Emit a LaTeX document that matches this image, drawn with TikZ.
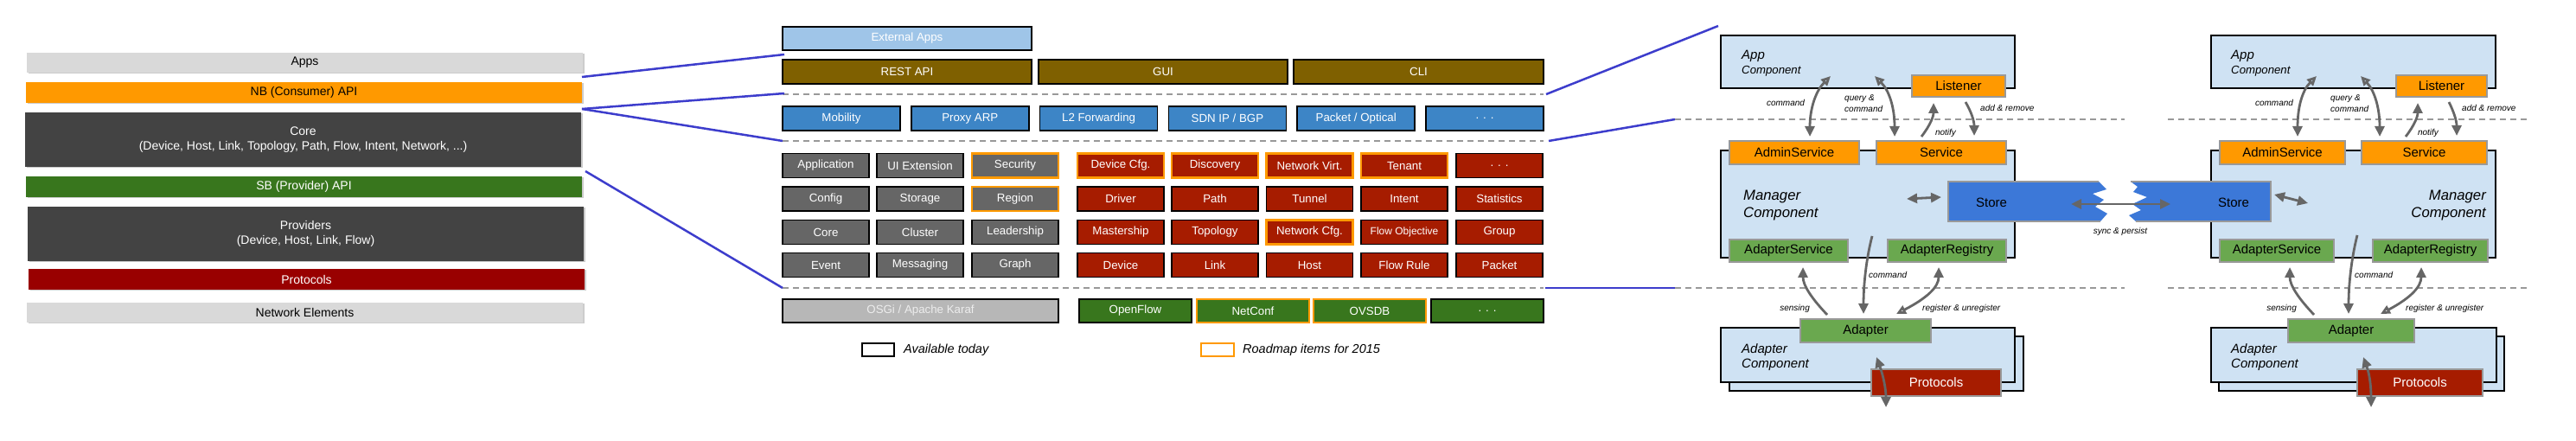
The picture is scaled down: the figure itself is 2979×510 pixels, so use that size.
\documentclass[tikz,border=0pt]{standalone}
\usepackage{fontspec}
\setmainfont{Liberation Sans}
\usetikzlibrary{arrows.meta,shadows}

\definecolor{lgray}{HTML}{D9D9D9}
\definecolor{nborange}{HTML}{FF9900}
\definecolor{dgray}{HTML}{434343}
\definecolor{sbgreen}{HTML}{38761D}
\definecolor{protored}{HTML}{990000}
\definecolor{extblue}{HTML}{9FC5E8}
\definecolor{apibrown}{HTML}{7F6000}
\definecolor{appblue}{HTML}{3D85C6}
\definecolor{cellgray}{HTML}{666666}
\definecolor{cellred}{HTML}{A61C00}
\definecolor{osgigray}{HTML}{B7B7B7}
\definecolor{compblue}{HTML}{CFE2F3}
\definecolor{storeblue}{HTML}{3C78D8}
\definecolor{ifgreen}{HTML}{6AA84F}
\definecolor{linkblue}{HTML}{3D3DCC}
\definecolor{arrowgray}{HTML}{666666}
\definecolor{dashgray}{HTML}{999999}

\tikzset{
  layer/.style={minimum width=643pt, inner sep=0pt, align=center,
    font=\fontsize{14}{17}\selectfont,
    drop shadow={shadow xshift=1.5pt, shadow yshift=-1.5pt, fill=black!40, opacity=.5}},
  mbox/.style={draw=black, line width=1.5pt, inner sep=0pt, minimum height=28pt,
    text=white, font=\fontsize{13.3}{16}\selectfont},
  gcell/.style={mbox, minimum width=100pt, fill=cellgray},
  rcell/.style={mbox, minimum width=100pt, fill=cellred},
  approw/.style={mbox, minimum width=136pt, fill=appblue},
  sbrow/.style={mbox, minimum width=130pt, minimum height=27pt, fill=sbgreen},
  roadmap/.style={draw=nborange, line width=2.2pt},
  sepline/.style={dashgray, line width=2pt, dash pattern=on 7pt off 5pt},
  zoomline/.style={linkblue, line width=2.5pt},
  comp/.style={draw=black, line width=1.8pt, fill=compblue, inner sep=0pt},
  iface/.style={draw=dashgray, line width=1.5pt, inner sep=0pt, minimum height=26pt,
    font=\fontsize{15}{18}\selectfont},
  compname/.style={font=\itshape\fontsize{15}{18}\selectfont, inner sep=0pt},
  note/.style={font=\itshape\fontsize{10}{13}\selectfont, inner sep=0pt, align=left},
  legtext/.style={font=\itshape\fontsize{14.5}{17}\selectfont, inner sep=0pt, anchor=west},
  flow/.style={arrowgray, line width=2.8pt, -{Triangle[length=12pt,width=11pt]}},
  flowopen/.style={arrowgray, line width=2.8pt,
    {Triangle[open,length=11pt,width=10pt]}-{Triangle[length=12pt,width=11pt]}},
  flowboth/.style={arrowgray, line width=2.8pt,
    {Triangle[length=12pt,width=11pt]}-{Triangle[length=12pt,width=11pt]}},
}

\begin{document}
\begin{tikzpicture}[x=1pt, y=-1pt]
\useasboundingbox (0,0) rectangle (2979,510);

% layer stack
\node[layer, fill=lgray, minimum height=23pt] (apps) at (352.5,72.5) {Apps};
\node[layer, fill=nborange, minimum height=24pt] (nbapi) at (351.5,107) {NB (Consumer) API};
\node[layer, fill=dgray, text=white, minimum height=63pt] (core) at (350.5,161.5) {Core\\(Device, Host, Link, Topology, Path, Flow, Intent, Network, ...)};
\node[layer, fill=sbgreen, text=white, minimum height=24pt] (sbapi) at (351.5,216) {SB (Provider) API};
\node[layer, fill=dgray, text=white, minimum height=63pt] (prov) at (353.5,270.5) {Providers\\(Device, Host, Link, Flow)};
\node[layer, fill=protored, text=white, minimum height=24pt] (proto) at (354.5,323) {Protocols};
\node[layer, fill=lgray, minimum height=23pt] (netel) at (352.5,361.5) {Network Elements};

% subsystems
\node[mbox, fill=extblue, minimum width=288pt, minimum height=27pt] (ext) at (1049,44.5) {External Apps};
\node[mbox, fill=apibrown, minimum width=288pt] (rest) at (1049,83) {REST API};
\node[mbox, fill=apibrown, minimum width=288pt] (gui) at (1345,83) {GUI};
\node[mbox, fill=apibrown, minimum width=289pt] (cli) at (1640.5,83) {CLI};
\draw[sepline] (905,109) -- (1785,109);

\node[approw] (mob) at (973,137) {Mobility};
\node[approw] (parp) at (1121.8,137) {Proxy ARP};
\node[approw] (ltwo) at (1270.6,137) {L2 Forwarding};
\node[approw] (sdnip) at (1419.4,137) {SDN IP / BGP};
\node[approw] (pkopt) at (1568.2,137) {Packet / Optical};
\node[approw] (appdots) at (1717,137) {. . .};
\draw[sepline] (905,163) -- (1785,163);

\node[gcell] (appl) at (955,191.5) {Application};
\node[gcell] (uiext) at (1064,191.5) {UI Extension};
\node[gcell, roadmap] (secur) at (1174,191.5) {Security};
\node[rcell, roadmap] (devcfg) at (1296,191.5) {Device Cfg.};
\node[rcell, roadmap] (disco) at (1405,191.5) {Discovery};
\node[rcell, roadmap] (nvirt) at (1514.5,191.5) {Network Virt.};
\node[rcell, roadmap] (tenant) at (1624,191.5) {Tenant};
\node[rcell] (rdots) at (1734,191.5) {. . .};

\node[gcell] (config) at (955,230) {Config};
\node[gcell] (stor) at (1064,230) {Storage};
\node[gcell, roadmap] (region) at (1174,230) {Region};
\node[rcell] (driver) at (1296,230) {Driver};
\node[rcell] (path) at (1405,230) {Path};
\node[rcell] (tunnel) at (1514.5,230) {Tunnel};
\node[rcell] (intent) at (1624,230) {Intent};
\node[rcell] (stats) at (1734,230) {Statistics};

\node[gcell] (gcore) at (955,268.5) {Core};
\node[gcell] (clust) at (1064,268.5) {Cluster};
\node[gcell] (leader) at (1174,268.5) {Leadership};
\node[rcell] (master) at (1296,268.5) {Mastership};
\node[rcell] (topo) at (1405,268.5) {Topology};
\node[rcell, roadmap] (netcfg) at (1514.5,268.5) {Network Cfg.};
\node[rcell, font=\fontsize{12}{14}\selectfont] (flowobj) at (1624,268.5) {Flow Objective};
\node[rcell] (group) at (1734,268.5) {Group};

\node[gcell] (event) at (955,306.5) {Event};
\node[gcell] (msg) at (1064,306.5) {Messaging};
\node[gcell] (graph) at (1174,306.5) {Graph};
\node[rcell] (device) at (1296,306.5) {Device};
\node[rcell] (link) at (1405,306.5) {Link};
\node[rcell] (host) at (1514.5,306.5) {Host};
\node[rcell] (frule) at (1624,306.5) {Flow Rule};
\node[rcell] (packet) at (1734,306.5) {Packet};
\draw[sepline] (905,333) -- (1785,333);

\node[mbox, fill=osgigray, text=white!93!black, minimum width=319pt, minimum height=27pt] (osgi) at (1064.5,359.5) {OSGi / Apache Karaf};
\node[sbrow] (oflow) at (1313,359.5) {OpenFlow};
\node[sbrow, roadmap] (netconf) at (1449,359.5) {NetConf};
\node[sbrow, roadmap] (ovsdb) at (1584,359.5) {OVSDB};
\node[sbrow] (sbdots) at (1720,359.5) {. . .};

% legend
\node[draw=black, line width=1.5pt, fill=white, minimum width=37pt, minimum height=15pt, inner sep=0pt] (legnow) at (1015.5,404.5) {};
\node[legtext] (legnowtxt) at (1045,404.5) {Available today};
\node[draw=nborange, line width=2.2pt, fill=white, minimum width=38pt, minimum height=15pt, inner sep=0pt] (legmap) at (1408,404.5) {};
\node[legtext] (legmaptxt) at (1437,404.5) {Roadmap items for 2015};

% zoom lines
\coordinate (zsa) at (673,89);
\coordinate (zsb) at (673,126);
\coordinate (zsc) at (677,198);
\coordinate (zea) at (907,63);
\coordinate (zeb) at (907,108);
\coordinate (zec) at (905,163);
\coordinate (zed) at (905,333);
\draw[zoomline] (zsa) -- (zea);
\draw[zoomline] (zsb) -- (zeb);
\draw[zoomline] (zsb) -- (zec);
\draw[zoomline] (zsc) -- (zed);
\coordinate (zra) at (1788,109);
\coordinate (zrb) at (1791,163);
\coordinate (zrc) at (1787,333);
\coordinate (zta) at (1987,30);
\coordinate (ztb) at (1937,138);
\coordinate (ztc) at (1937,333);
\draw[zoomline] (zra) -- (zta);
\draw[zoomline] (zrb) -- (ztb);
\draw[zoomline] (zrc) -- (ztc);

% tier separators
\draw[sepline] (ztb) -- (2457,138);
\draw[sepline] (2507,138) -- (2923,138);
\draw[sepline] (ztc) -- (2457,333);
\draw[sepline] (2507,333) -- (2923,333);

% components, left instance
\node[comp, minimum width=340pt, minimum height=61pt] (appA) at (2160,71.5) {};
\node[comp, minimum width=340pt, minimum height=124pt] (mgrA) at (2160,236) {};
\node[comp, minimum width=340pt, minimum height=63pt] (adcAback) at (2170,420.5) {};
\node[comp, minimum width=340pt, minimum height=63pt] (adcA) at (2160,410.5) {};
\node[compname, anchor=base west] (appAt) at (2014,69) {App};
\node[compname, anchor=base west, font=\itshape\fontsize{13.2}{16}\selectfont] (appAc) at (2014,86) {Component};
\node[compname, anchor=base west, font=\itshape\fontsize{16.7}{20}\selectfont] (mgrAt) at (2016,232) {Manager};
\node[compname, anchor=base west, font=\itshape\fontsize{16.7}{20}\selectfont] (mgrAc) at (2016,252) {Component};
\node[compname, anchor=base west] (adcAt) at (2014,408) {Adapter};
\node[compname, anchor=base west] (adcAc) at (2014,425) {Component};

% components, right instance
\node[comp, minimum width=329pt, minimum height=61pt] (appB) at (2721.5,71.5) {};
\node[comp, minimum width=329pt, minimum height=124pt] (mgrB) at (2721.5,236) {};
\node[comp, minimum width=330pt, minimum height=63pt] (adcBback) at (2731,420.5) {};
\node[comp, minimum width=330pt, minimum height=63pt] (adcB) at (2722,410.5) {};
\node[compname, anchor=base west] (appBt) at (2580,69) {App};
\node[compname, anchor=base west, font=\itshape\fontsize{13.2}{16}\selectfont] (appBc) at (2580,86) {Component};
\node[compname, anchor=base east, font=\itshape\fontsize{16.7}{20}\selectfont] (mgrBt) at (2875,232) {Manager};
\node[compname, anchor=base east, font=\itshape\fontsize{16.7}{20}\selectfont] (mgrBc) at (2875,252) {Component};
\node[compname, anchor=base west] (adcBt) at (2580,408) {Adapter};
\node[compname, anchor=base west] (adcBc) at (2580,425) {Component};

% stores
\fill[storeblue] (2253,210) -- (2427,210) -- (2436,219) -- (2420,224) -- (2433,231) -- (2423,239) -- (2437,247) -- (2429,256) -- (2253,256) -- cycle;
\draw[dashgray, line width=1.5pt] (2427,210) -- (2253,210) -- (2253,256) -- (2429,256);
\fill[storeblue] (2464,210) -- (2626,210) -- (2626,256) -- (2470,256) -- (2462,249) -- (2476,243) -- (2466,236) -- (2483,228) -- (2467,222) -- (2472,216) -- cycle;
\draw[dashgray, line width=1.5pt] (2464,210) -- (2626,210) -- (2626,256) -- (2470,256);
\node[font=\fontsize{15}{18}\selectfont] (storeA) at (2303,234) {Store};
\node[font=\fontsize{15}{18}\selectfont] (storeB) at (2583,234) {Store};
\coordinate (syncA) at (2395,236);
\coordinate (syncB) at (2510,236);
\draw[flowboth] (syncA) -- (syncB);
\node[note] (synclbl) at (2452,268) {sync \& persist};

% interfaces, left instance
\node[iface, fill=nborange, minimum width=108pt, minimum height=25pt] (listA) at (2265,99.5) {Listener};
\node[iface, fill=nborange, minimum width=150pt, minimum height=27pt] (admA) at (2075,176.5) {AdminService};
\node[iface, fill=nborange, minimum width=150pt, minimum height=27pt] (servA) at (2245,176.5) {Service};
\node[iface, fill=ifgreen, minimum width=137pt] (adsA) at (2068.5,290) {AdapterService};
\node[iface, fill=ifgreen, minimum width=137pt] (adrA) at (2251.5,290) {AdapterRegistry};
\node[iface, fill=ifgreen, minimum width=151pt, minimum height=27pt] (adpA) at (2157.5,382.5) {Adapter};
\node[iface, fill=cellred, text=white, minimum width=150pt, minimum height=31pt] (protA) at (2239,442.5) {Protocols};

% interfaces, right instance
\node[iface, fill=nborange, minimum width=105pt, minimum height=25pt] (listB) at (2823.5,99.5) {Listener};
\node[iface, fill=nborange, minimum width=145pt, minimum height=27pt] (admB) at (2639.5,176.5) {AdminService};
\node[iface, fill=nborange, minimum width=145pt, minimum height=27pt] (servB) at (2803.5,176.5) {Service};
\node[iface, fill=ifgreen, minimum width=132pt] (adsB) at (2633,290) {AdapterService};
\node[iface, fill=ifgreen, minimum width=133pt] (adrB) at (2810.5,290) {AdapterRegistry};
\node[iface, fill=ifgreen, minimum width=146pt, minimum height=27pt] (adpB) at (2719,382.5) {Adapter};
\node[iface, fill=cellred, text=white, minimum width=145pt, minimum height=31pt] (protB) at (2798.5,442.5) {Protocols};

% flows, left instance
\coordinate (cmdAt) at (2117,88);   \coordinate (cmdAb) at (2093,158);
\coordinate (qryAt) at (2168,88);   \coordinate (qryAb) at (2191,158);
\coordinate (ntfAb) at (2222,158);  \coordinate (ntfAt) at (2236,119);
\coordinate (addAt) at (2273,118);  \coordinate (addAb) at (2283,157);
\coordinate (snsAb) at (2113,364);  \coordinate (snsAt) at (2085,309);
\coordinate (dcmAt) at (2165,273);  \coordinate (dcmAb) at (2155,363);
\coordinate (regAb) at (2193,363);  \coordinate (regAt) at (2242,309);
\coordinate (prtAt) at (2170,413);  \coordinate (prtAb) at (2181,471);
\coordinate (mstAa) at (2205,230);  \coordinate (mstAb) at (2245,228);
\draw[flowopen] (cmdAt) .. controls (2100,105) and (2093,125) .. (cmdAb);
\draw[flowopen] (qryAt) .. controls (2185,105) and (2191,125) .. (qryAb);
\draw[flow] (ntfAb) .. controls (2232,145) and (2236,135) .. (ntfAt);
\draw[flow] (addAt) .. controls (2280,130) and (2283,140) .. (addAb);
\draw[flow] (snsAb) .. controls (2095,345) and (2085,330) .. (snsAt);
\draw[flow] (dcmAt) .. controls (2158,300) and (2155,330) .. (dcmAb);
\draw[flowopen] (regAb) .. controls (2228,345) and (2242,332) .. (regAt);
\draw[flowboth] (prtAt) .. controls (2178,435) and (2181,450) .. (prtAb);
\draw[flowboth] (mstAa) -- (mstAb);
\node[note] (cmdAl) at (2065,119) {command};
\node[note, anchor=west] (qryAl) at (2133,119.5) {query \&\\command};
\node[note] (ntfAl) at (2250,154) {notify};
\node[note, anchor=west] (addAl) at (2290,125) {add \& remove};
\node[note, anchor=east] (snsAl) at (2093,357) {sensing};
\node[note, anchor=west] (dcmAl) at (2161,318) {command};
\node[note, anchor=west] (regAl) at (2223,357) {register \& unregister};

% flows, right instance
\coordinate (cmdBt) at (2679,88);   \coordinate (cmdBb) at (2657,158);
\coordinate (qryBt) at (2730,88);   \coordinate (qryBb) at (2752,158);
\coordinate (ntfBb) at (2782,158);  \coordinate (ntfBt) at (2796,119);
\coordinate (addBt) at (2832,118);  \coordinate (addBb) at (2841,157);
\coordinate (snsBb) at (2676,364);  \coordinate (snsBt) at (2648,309);
\coordinate (dcmBt) at (2726,272);  \coordinate (dcmBb) at (2716,363);
\coordinate (regBb) at (2753,363);  \coordinate (regBt) at (2800,309);
\coordinate (prtBt) at (2733,413);  \coordinate (prtBb) at (2742,471);
\coordinate (mstBa) at (2630,225);  \coordinate (mstBb) at (2669,235);
\draw[flowopen] (cmdBt) .. controls (2662,105) and (2657,125) .. (cmdBb);
\draw[flowopen] (qryBt) .. controls (2746,105) and (2752,125) .. (qryBb);
\draw[flow] (ntfBb) .. controls (2792,145) and (2796,135) .. (ntfBt);
\draw[flow] (addBt) .. controls (2838,130) and (2841,140) .. (addBb);
\draw[flow] (snsBb) .. controls (2658,345) and (2648,330) .. (snsBt);
\draw[flow] (dcmBt) .. controls (2719,300) and (2716,330) .. (dcmBb);
\draw[flowopen] (regBb) .. controls (2787,345) and (2800,332) .. (regBt);
\draw[flowboth] (prtBt) .. controls (2741,435) and (2742,450) .. (prtBb);
\draw[flowboth] (mstBa) -- (mstBb);
\node[note] (cmdBl) at (2630,119) {command};
\node[note, anchor=west] (qryBl) at (2695,119.5) {query \&\\command};
\node[note] (ntfBl) at (2808,154) {notify};
\node[note, anchor=west] (addBl) at (2847,125) {add \& remove};
\node[note, anchor=east] (snsBl) at (2656,357) {sensing};
\node[note, anchor=west] (dcmBl) at (2723,318) {command};
\node[note, anchor=west] (regBl) at (2782,357) {register \& unregister};
\end{tikzpicture}
\end{document}
